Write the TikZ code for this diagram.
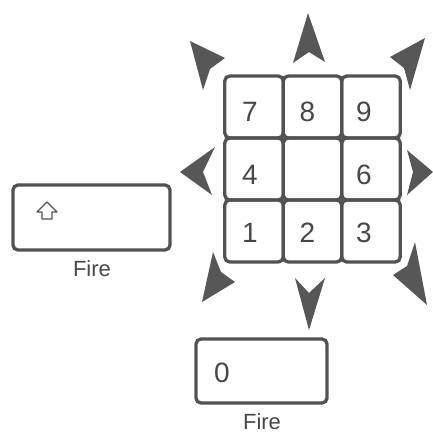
\documentclass[tikz,border=0pt]{standalone}
\usepackage{fontspec}
\setmainfont{Liberation Sans}
\usepackage{color}

\begin{document}
\begin{tikzpicture}[x=1pt,y=-1pt,
  ink/.style={draw=black!68,line width=3.3pt},
  key/.style={ink,rectangle,rounded corners=5pt,minimum width=58.5pt,minimum height=62pt,inner sep=0pt},
  digit/.style={text=black!72,font=\fontsize{28}{28}\selectfont,inner sep=0pt},
  caption/.style={text=black!72,font=\fontsize{22}{22}\selectfont,inner sep=0pt,anchor=base},
  pointer/.style={fill=black!66}]
\useasboundingbox (0,0) rectangle (433,434);
% keypad
\node[key] (k7) at (254,107) {};
\node[key] (k8) at (312.5,107) {};
\node[key] (k9) at (371,107) {};
\node[key] (k4) at (254,169) {};
\node[key] (k5) at (312.5,169) {};
\node[key] (k6) at (371,169) {};
\node[key] (k1) at (254,231) {};
\node[key] (k2) at (312.5,231) {};
\node[key] (k3) at (371,231) {};
\node[digit] at ([shift={(-4,5)}]k7) {7};
\node[digit] at ([shift={(-5,5)}]k8) {8};
\node[digit] at ([shift={(-7,5)}]k9) {9};
\node[digit] at ([shift={(-4,6)}]k4) {4};
\node[digit] at ([shift={(-7,6)}]k6) {6};
\node[digit] at ([shift={(-4,2)}]k1) {1};
\node[digit] at ([shift={(-5,2)}]k2) {2};
\node[digit] at ([shift={(-7,2)}]k3) {3};
% direction pointers
\fill[pointer] (308,13) -- (293,63) -- (309,52) -- (325,62) -- cycle;
\fill[pointer] (309,330) -- (295,278) -- (309,293) -- (325,278) -- cycle;
\fill[pointer] (180,172) -- (215,147) -- (203,172) -- (212,195) -- cycle;
\fill[pointer] (433,172) -- (407,150) -- (413,172) -- (407,195) -- cycle;
\fill[pointer] (190,41) -- (225,58) -- (210,69) -- (203,90) -- cycle;
\fill[pointer] (425,38) -- (390,57) -- (404,68) -- (410,90) -- cycle;
\fill[pointer] (202,302) -- (213,252) -- (221,272) -- (235,282) -- cycle;
\fill[pointer] (427,305) -- (415,242) -- (407,266) -- (393,275) -- cycle;
% fire keys
\node[key,minimum width=157pt,minimum height=65pt] (shift) at (91.5,217.5) {};
\draw[draw=black!68,line width=1.4pt,line join=round]
  (47,202) -- (57,212) -- (52,212) -- (52,219) -- (42,219) -- (42,212) -- (37,212) -- cycle;
\node[caption] (fireA) at (92,276) {Fire};
\node[key,minimum width=131pt,minimum height=64pt] (zero) at (261.5,371) {};
\node[digit] at (222,373) {0};
\node[caption] (fireB) at (262,429) {Fire};
\end{tikzpicture}
\end{document}
